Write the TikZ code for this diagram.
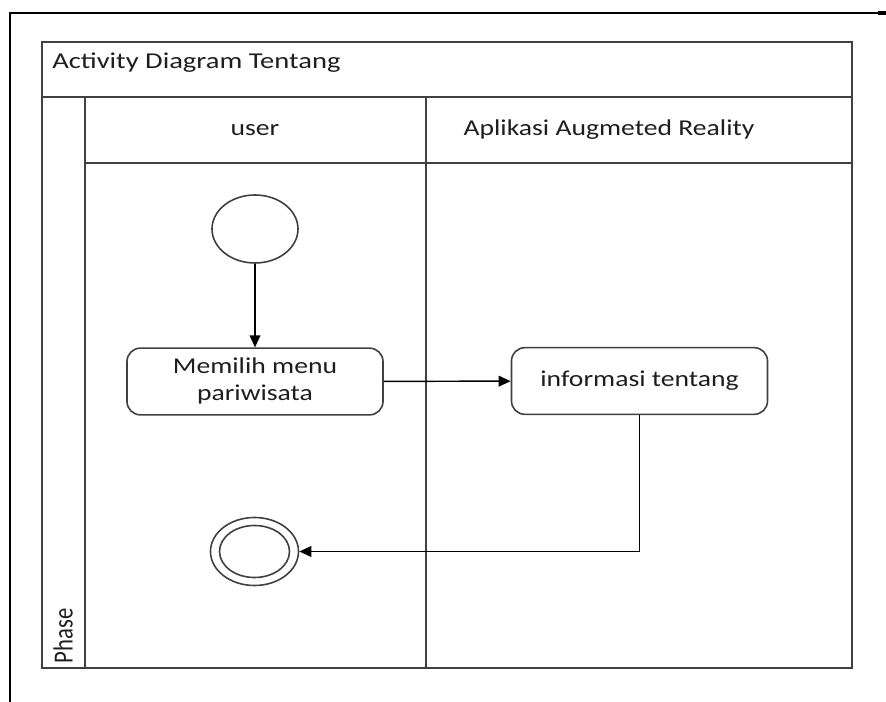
\documentclass[tikz,border=0pt]{standalone}
\usepackage{fontspec}
\setmainfont{Carlito}
\usetikzlibrary{arrows.meta,shapes.geometric}
\definecolor{linegray}{HTML}{404040}
\definecolor{textgray}{HTML}{1E1E1E}
% text is set a little wider than its natural shape
\newcommand\widetext[2][1.22]{\scalebox{#1}[1]{#2}}
\begin{document}
\begin{tikzpicture}[x=0.75pt,y=-0.75pt,
  lane/.style={draw=linegray,line width=1.4pt},
  label/.style={text=textgray,font=\fontsize{17}{20}\selectfont,inner sep=0pt},
  activity/.style={draw=linegray,line width=1.2pt,rounded corners=10pt,
    minimum width=192pt,minimum height=50pt,align=center,
    text=textgray,font=\fontsize{17}{20}\selectfont},
  state/.style={ellipse,draw=linegray,line width=1.2pt,inner sep=0pt},
  flow/.style={draw=black,line width=1.1pt,-{Triangle[length=9pt,width=8pt]}}]
\useasboundingbox (0,0) rectangle (886,702);
% page frame
\draw[line width=1.5pt] (9,13) -- (886,13);
\fill (878,11.5) rectangle (886,15);
\draw[line width=1.5pt] (10,12) -- (10,702);
% swimlane frame
\draw[lane] (42,42) rectangle (852,668);
\draw[lane] (42,97) -- (852,97);
\draw[lane] (85,97) -- (85,668);
\draw[lane] (85,163) -- (852,163);
\draw[lane] (426,97) -- (426,668);
% lane titles
\node[label,anchor=west] (title) at (52,63) {\widetext[1.26]{Activity Diagram Tentang}};
\node[label] (laneuser) at (255,130) {\widetext{user}};
\node[label] (laneapp) at (609,130) {\widetext{Aplikasi Augmeted Reality}};
\node[label] (phase) at (63,636) {\widetext{\rotatebox{90}{Phase}}};
% activities
\node[state,minimum width=64.5pt,minimum height=51pt] (start) at (255,229) {};
\node[activity] (act1) at (255,381.5) {\widetext{\begin{tabular}{@{}c@{}}Memilih menu\\pariwisata\end{tabular}}};
\node[activity] (act2) at (639.5,381) {\widetext{informasi tentang}};
\node[state,minimum width=66pt,minimum height=51pt] (final) at (254.5,551.5) {};
\node[state,minimum width=52.5pt,minimum height=39pt] (finalin) at (final.center) {};
% control flow
\draw[flow] (start) -- (act1);
\draw[flow] (act1) -- (act2);
\draw[flow] (act2.south) |- (final.east);
\end{tikzpicture}
\end{document}
